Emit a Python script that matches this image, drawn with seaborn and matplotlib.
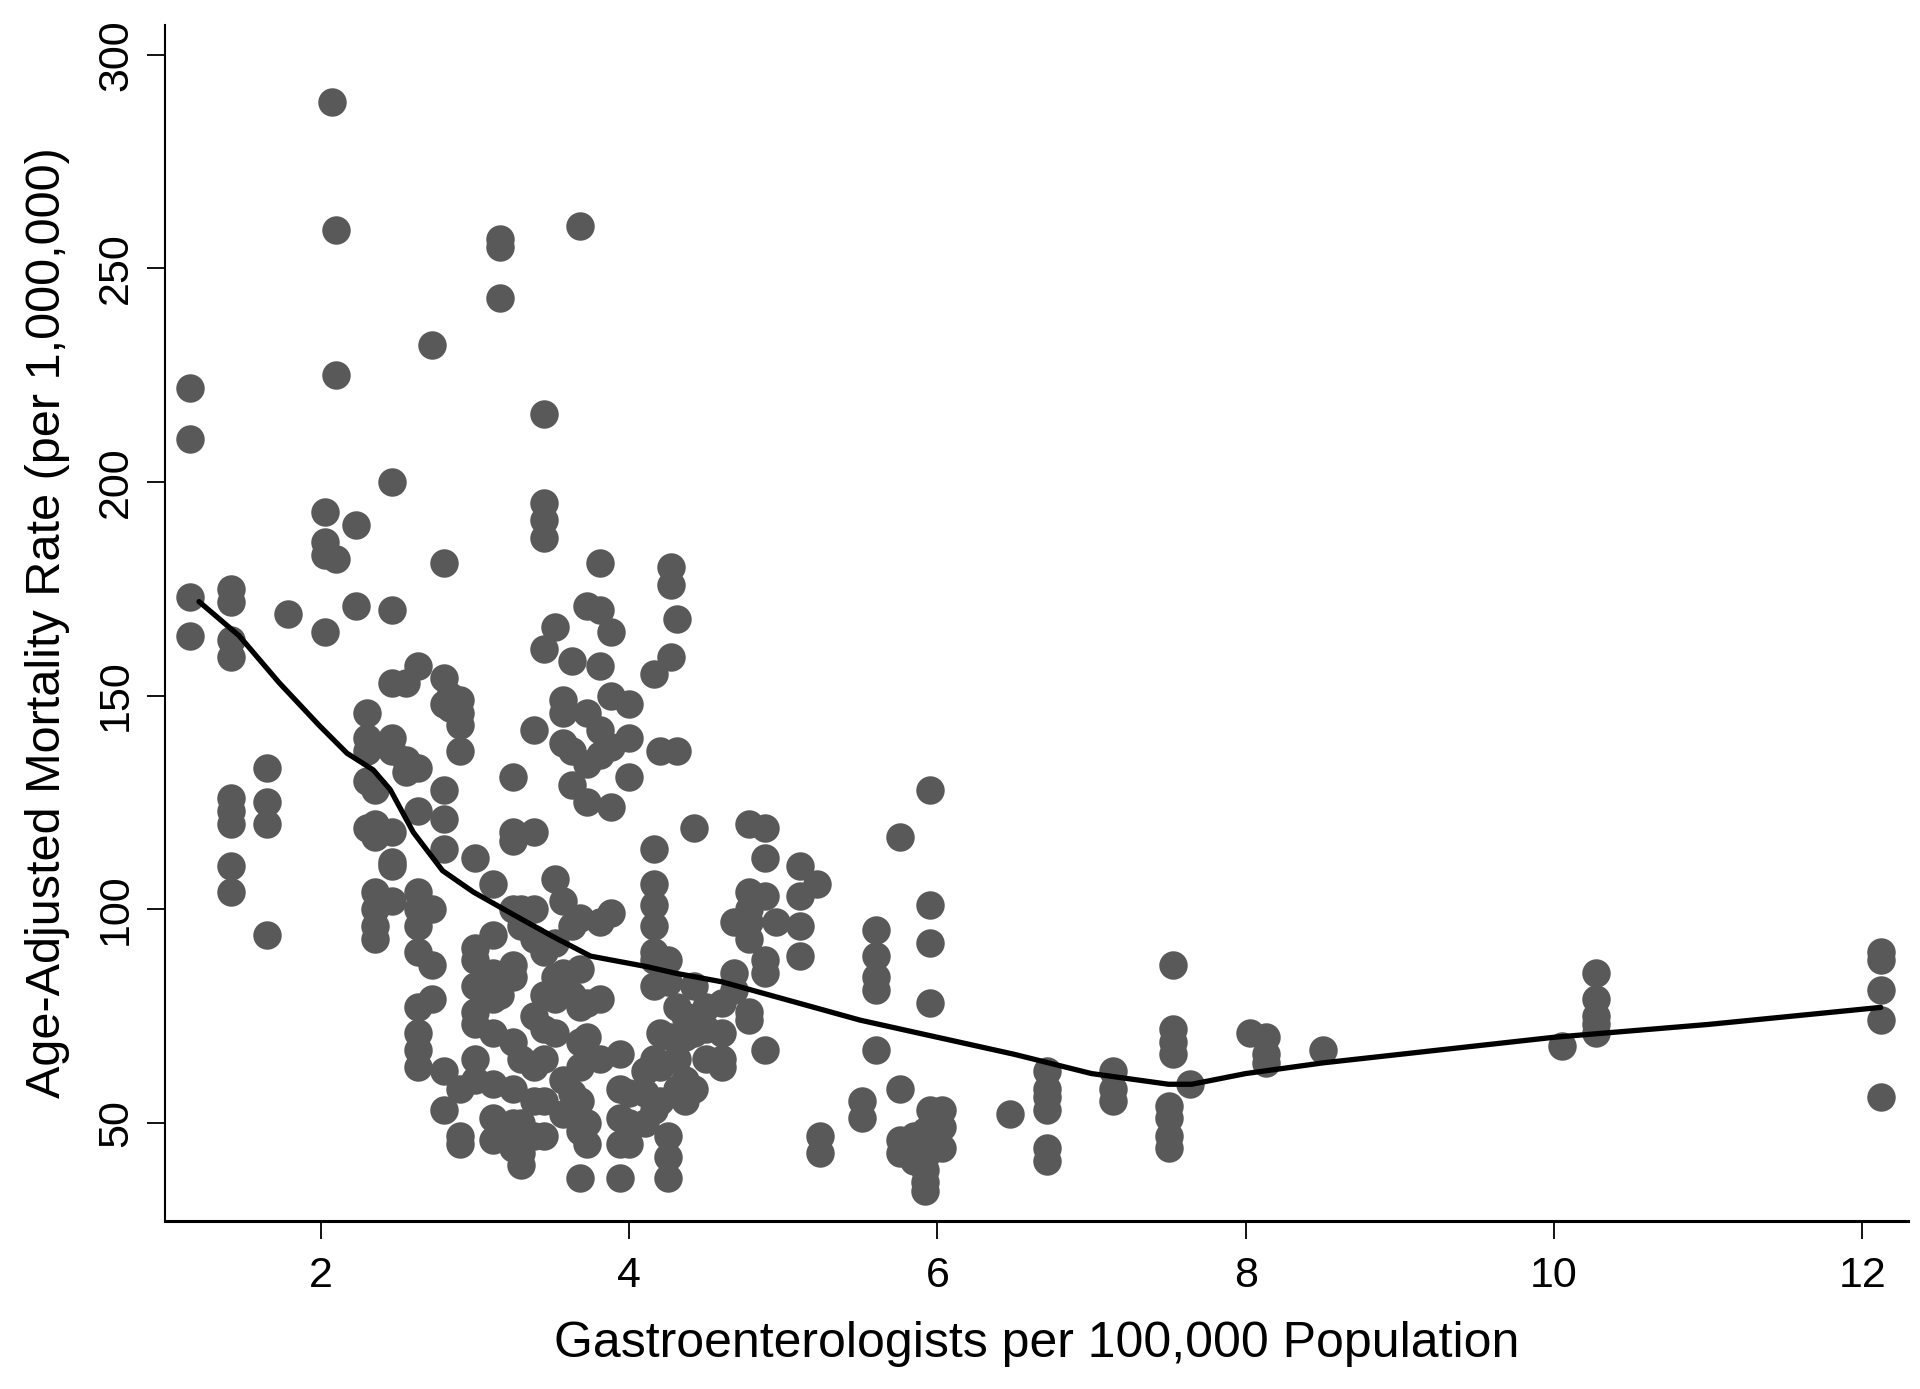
import matplotlib
matplotlib.use("Agg")
import matplotlib.pyplot as plt
import numpy as np
import pandas as pd
import seaborn as sns

# gastroenterologist density (x) for each stacked column of points
col_x = [1.15, 1.42, 1.65, 1.79, 2.03, 2.07, 2.10, 2.23, 2.30, 2.35,
         2.46, 2.55, 2.63, 2.72, 2.80, 2.84, 2.90, 3.00, 3.12, 3.16,
         3.25, 3.30, 3.38, 3.45, 3.52, 3.57, 3.63, 3.68, 3.73, 3.81,
         3.88, 3.94, 4.00, 4.10, 4.16, 4.20, 4.25, 4.27, 4.31, 4.36,
         4.42, 4.50, 4.60, 4.68, 4.78, 4.88, 4.95, 5.11, 5.22, 5.24,
         5.51, 5.60, 5.76, 5.85, 5.92, 5.95, 6.03, 6.47, 6.71, 7.14,
         7.50, 7.53, 7.64, 8.03, 8.13, 8.50, 10.05, 10.27, 12.12]

# age-adjusted mortality values in each column
col_y = [
    [222, 210, 173, 164],
    [175, 172, 163, 159, 126, 123, 120, 110, 104],
    [133, 125, 120, 94],
    [169],
    [193, 186, 183, 165],
    [289],
    [259, 225, 182],
    [190, 171],
    [146, 140, 137, 130, 119],
    [128, 120, 117, 104, 100, 96, 93],
    [200, 170, 153, 140, 137, 118, 111, 110, 102],
    [153, 135, 132],
    [157, 133, 123, 104, 100, 96, 90, 77, 71, 67, 63],
    [232, 100, 87, 79],
    [181, 154, 148, 128, 121, 114, 62, 53],
    [150, 147],
    [149, 146, 143, 137, 58, 47, 45],
    [112, 91, 88, 82, 76, 73, 65, 60],
    [106, 94, 85, 79, 71, 59, 51, 46],
    [257, 255, 243, 80, 49],
    [131, 118, 116, 100, 87, 84, 69, 58, 50, 44],
    [100, 96, 65, 50, 43, 40],
    [142, 118, 100, 93, 75, 63, 55, 47],
    [216, 195, 191, 187, 161, 90, 80, 72, 65, 55, 47],
    [166, 107, 92, 84, 79, 71],
    [149, 146, 139, 102, 85, 60, 52],
    [158, 137, 129, 96, 80, 57],
    [260, 98, 86, 77, 69, 63, 55, 48, 37],
    [171, 146, 134, 125, 78, 70, 50, 45],
    [181, 170, 157, 142, 136, 97, 79, 65],
    [165, 150, 138, 124, 99],
    [66, 58, 51, 45, 37],
    [148, 140, 131, 57, 50, 45],
    [62, 57, 50],
    [155, 114, 106, 101, 96, 90, 88, 82, 65, 53],
    [137, 71, 63, 55],
    [88, 83, 47, 42, 37],
    [180, 176, 159, 70],
    [168, 137, 77, 65, 58],
    [75, 70, 60, 55],
    [119, 82, 71, 58],
    [77, 72, 65],
    [78, 71, 65, 63],
    [97, 85, 81],
    [120, 104, 100, 97, 93, 76, 74],
    [119, 112, 103, 88, 85, 67],
    [97],
    [110, 103, 96, 89],
    [106],
    [47, 43],
    [55, 51],
    [95, 89, 84, 81, 67],
    [117, 58, 46, 43],
    [47, 44, 41],
    [48, 42, 39, 36, 34],
    [128, 101, 92, 78, 53, 49, 44],
    [53, 49, 44],
    [52],
    [62, 58, 56, 53, 44, 41],
    [62, 58, 55],
    [54, 51, 47, 44],
    [87, 72, 69, 66],
    [59],
    [71],
    [70, 66, 64],
    [67],
    [68],
    [85, 79, 75, 73, 71],
    [90, 88, 81, 74, 56],
]

# lowess fit
lo_x = [1.21, 1.47, 1.73, 1.99, 2.17, 2.34, 2.45, 2.6, 2.79, 2.99, 3.25,
        3.51, 3.75, 4.12, 4.3, 4.6, 5.0, 5.5, 6.0, 6.5, 7.0, 7.5, 7.65,
        8.0, 8.5, 9.0, 10.0, 11.0, 12.12]
lo_y = [172, 164, 153, 143, 136.5, 132.6, 128, 118, 109, 104, 98.7,
        93.5, 89, 86.5, 85, 83, 79, 74, 70, 66, 61.5, 59, 59,
        61.5, 64, 66, 70, 73, 77]

df = pd.DataFrame({
    "gi": np.repeat(col_x, [len(v) for v in col_y]),
    "rate": np.concatenate([np.array(v, dtype=float) for v in col_y]),
})

sns.set_style("white")
plt.rcParams["font.family"] = ["Liberation Sans", "DejaVu Sans"]
plt.rcParams["text.color"] = "black"
plt.rcParams["axes.labelcolor"] = "black"

fig, ax = plt.subplots(figsize=(19.2, 13.89), dpi=100)
fig.subplots_adjust(left=0.086, right=0.994, bottom=0.121, top=0.982)

sns.scatterplot(data=df, x="gi", y="rate", color="#595959", s=420,
                linewidth=0, alpha=1, ax=ax)
sns.lineplot(x=lo_x, y=lo_y, color="black", linewidth=3.8, ax=ax)

ax.set_xlim(0.99, 12.3)
ax.set_ylim(27, 307)
ax.set_xticks([2, 4, 6, 8, 10, 12])
ax.set_yticks([50, 100, 150, 200, 250, 300])
ax.tick_params(axis="both", which="major", bottom=True, left=True,
               direction="out", length=13, width=1.3,
               labelsize=31, color="black", labelcolor="black")
ax.tick_params(axis="x", pad=12)
ax.tick_params(axis="y", pad=8)
for lab in ax.get_yticklabels():
    lab.set_rotation(90)
    lab.set_va("center")

ax.set_xlabel("Gastroenterologists per 100,000 Population", fontsize=36,
              labelpad=18, color="black")
ax.set_ylabel("Age-Adjusted Mortality Rate (per 1,000,000)", fontsize=35,
              labelpad=19, color="black")

sns.despine(ax=ax)
ax.spines["left"].set_linewidth(1.5)
ax.spines["bottom"].set_linewidth(2.2)
ax.spines["left"].set_color("black")
ax.spines["bottom"].set_color("black")

fig.savefig("out.png", dpi=100, facecolor="white")
